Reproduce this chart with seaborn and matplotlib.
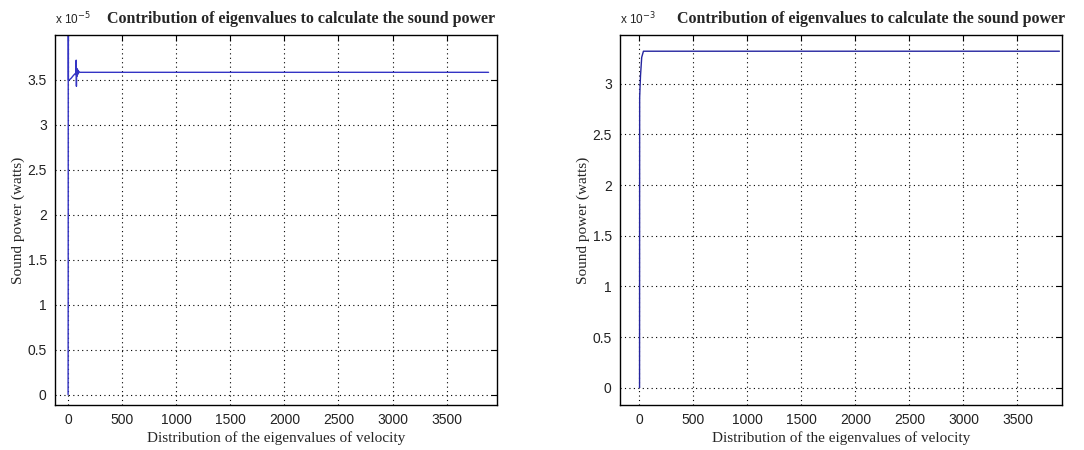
import matplotlib
matplotlib.use("Agg")
import matplotlib.pyplot as plt
import seaborn as sns
import pandas as pd

# --- data (breakpoints of each trace) ----------------------------------------
# left panel, sound power in units of 1e-5 W
left_index = [1, 2, 3, 4, 12, 30, 50, 66, 72, 76, 78, 80, 82, 85, 88, 92, 96, 100, 110, 130, 3888]
left_power = [0, 1.2, 6.5, 3.50, 3.50, 3.52, 3.55, 3.57, 3.56, 3.72, 3.43, 3.63, 3.54, 3.62, 3.56, 3.61, 3.57, 3.595, 3.585, 3.585, 3.585]

# right panel, sound power in units of 1e-3 W
right_index = [1, 2, 5, 10, 21, 37, 3888]
right_power = [0, 2.86, 2.95, 3.08, 3.26, 3.32, 3.32]

x_ticks = [0, 500, 1000, 1500, 2000, 2500, 3000, 3500]
left_yticks = [0, 0.5, 1, 1.5, 2, 2.5, 3, 3.5]
right_yticks = [0, 0.5, 1, 1.5, 2, 2.5, 3]

title = "Contribution of eigenvalues to calculate the sound power"
xlabel = "Distribution of the eigenvalues of velocity"
ylabel = "Sound power (watts)"

left = pd.DataFrame({"index": left_index, "power": left_power})
right = pd.DataFrame({"index": right_index, "power": right_power})

# --- style -----------------------------------------------------------------
sns.set_style("white")
plt.rcParams["font.family"] = ["Liberation Sans", "DejaVu Sans"]

fig = plt.figure(figsize=(10.84, 4.5), dpi=100)
ax1 = fig.add_axes([55 / 1084, 45 / 450, 442 / 1084, 370 / 450])
ax2 = fig.add_axes([620 / 1084, 45 / 450, 442 / 1084, 370 / 450])

panels = [
    (ax1, left, left_yticks, (-120, 3966), (-0.115, 4.0), "-5", 0.557, "#3434c4"),
    (ax2, right, right_yticks, (-180, 3912), (-0.17, 3.48), "-3", 0.568, "#25259f"),
]

for ax, df, yt, xl, yl, expo, tx, col in panels:
    sns.lineplot(data=df, x="index", y="power", ax=ax, color=col,
                 linewidth=1.0, estimator=None, sort=False)
    ax.set_xlim(*xl)
    ax.set_ylim(*yl)
    ax.set_xticks(x_ticks)
    ax.set_yticks(yt)
    ax.set_yticklabels(["%g" % v for v in yt])
    ax.grid(True, color="black", linestyle=(0, (1, 3)), linewidth=0.8)
    ax.tick_params(direction="in", length=4, top=True, right=True,
                   labelsize=10, labelcolor="#222222", pad=6, color="black")
    for s in ax.spines.values():
        s.set_color("black")
        s.set_linewidth(1.0)
    ax.set_xlabel(xlabel, family="Liberation Serif", fontsize=11, labelpad=3)
    ax.set_ylabel(ylabel, family="Liberation Serif", fontsize=11, labelpad=2)
    ax.text(tx, 1.022, title, transform=ax.transAxes, ha="center", va="bottom",
            family="Liberation Serif", fontweight="bold", fontsize=11.5)
    ax.text(0.0, 1.02, r"x 10$^{%s}$" % expo, transform=ax.transAxes,
            ha="left", va="bottom", fontsize=8.5, color="#222222")

fig.savefig("out.png", dpi=100)
